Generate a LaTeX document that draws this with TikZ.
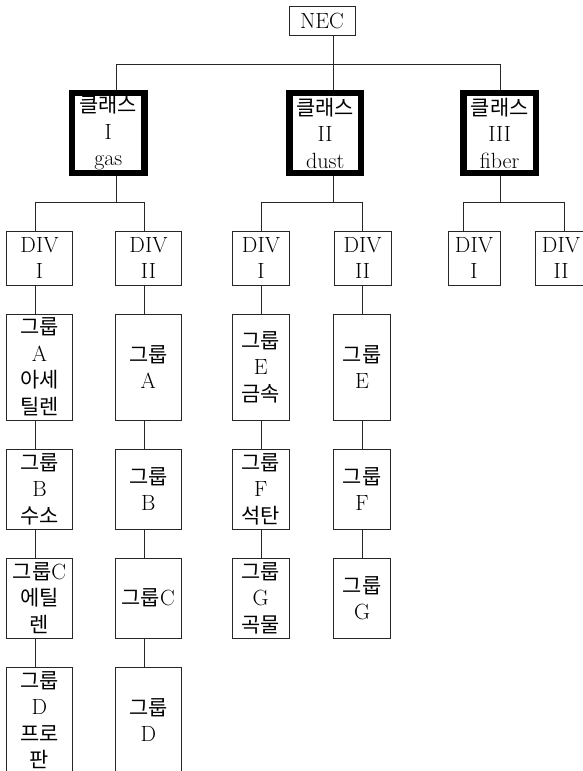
\documentclass[tikz,border=0pt]{standalone}
\usepackage{fontspec}
\newfontfamily\kr{Noto Sans CJK KR}[Scale=0.95]
\newcommand\K[1]{{\kr #1}}
\begin{document}
\begin{tikzpicture}[x=1pt,y=-1pt,
  bx/.style={draw=black!85, line width=0.9pt, inner sep=0pt, align=center,
    font=\fontsize{22}{26.5}\selectfont},
  cls/.style={bx, draw=black, line width=6.7pt, minimum height=80pt},
  divbox/.style={bx, minimum height=54pt},
  tall/.style={bx, minimum height=106pt},
  short/.style={bx, minimum height=80pt},
  ln/.style={draw=black!85, line width=0.9pt}]
\useasboundingbox (0,0) rectangle (583,771);
% top
\node[bx,minimum width=66pt,minimum height=29pt] (nec) at (322,20.5) {NEC};
\node[cls,minimum width=72.5pt] (c1) at (108.3,133) {\K{클래스}\\I\\gas};
\node[cls,minimum width=71.7pt] (c2) at (325.2,133) {\K{클래스}\\II\\dust};
\node[cls,minimum width=72.7pt] (c3) at (499.7,133) {\K{클래스}\\III\\fiber};
% divisions
\node[divbox,minimum width=65.5pt] (d1) at (39.5,258) {DIV\\I};
\node[divbox,minimum width=65.5pt] (d2) at (148.5,258) {DIV\\II};
\node[divbox,minimum width=57.7pt] (d3) at (261,258) {DIV\\I};
\node[divbox,minimum width=57.3pt] (d4) at (362.7,258) {DIV\\II};
\node[divbox,minimum width=52pt] (d5) at (474,258) {DIV\\I};
\node[divbox,minimum width=52pt] (d6) at (561,258) {DIV\\II};
% column 1
\node[tall,minimum width=65.6pt] (a1) at (39.5,367) {\K{그룹}\\A\\\K{아세}\\\K{틸렌}};
\node[short,minimum width=65.6pt] (b1) at (39.5,489) {\K{그룹}\\B\\\K{수소}};
\node[short,minimum width=65.6pt] (e1) at (39.5,598) {\K{그룹}C\\\K{에틸}\\\K{렌}};
\node[tall,minimum width=65.6pt] (f1) at (39.5,720) {\K{그룹}\\D\\\K{프로}\\\K{판}};
% column 2
\node[tall,minimum width=65.3pt] (a2) at (148.3,367) {\K{그룹}\\A};
\node[short,minimum width=65.3pt] (b2) at (148.3,489) {\K{그룹}\\B};
\node[short,minimum width=65.3pt] (e2) at (148.3,598) {\K{그룹}C};
\node[tall,minimum width=65.3pt] (f2) at (148.3,720) {\K{그룹}\\D};
% column 3
\node[tall,minimum width=57.3pt] (a3) at (260.7,367) {\K{그룹}\\E\\\K{금속}};
\node[short,minimum width=57.3pt] (b3) at (260.7,489) {\K{그룹}\\F\\\K{석탄}};
\node[short,minimum width=57.3pt] (e3) at (260.7,598) {\K{그룹}\\G\\\K{곡물}};
% column 4
\node[tall,minimum width=57.3pt] (a4) at (362,367) {\K{그룹}\\E};
\node[short,minimum width=57.3pt] (b4) at (362,489) {\K{그룹}\\F};
\node[short,minimum width=57.3pt] (e4) at (362,598) {\K{그룹}\\G};
% bus coordinates
\coordinate (t0) at (333.8,64);
\coordinate (tL) at (116,64);
\coordinate (tR) at (500,64);
\coordinate (s1) at (116,202);
\coordinate (s1L) at (35.7,202);
\coordinate (s1R) at (144.5,202);
\coordinate (s2) at (333.8,202);
\coordinate (s2L) at (261,202);
\coordinate (s2R) at (362,202);
\coordinate (s3) at (500,202);
\coordinate (s3L) at (463,202);
\coordinate (s3R) at (564,202);
% connectors top
\draw[ln] (nec.south -| t0) -- (t0);
\draw[ln] (tL) -- (tR);
\draw[ln] (tL) -- (tL |- c1.north);
\draw[ln] (t0) -- (t0 |- c2.north);
\draw[ln] (tR) -- (tR |- c3.north);
% class to divisions
\draw[ln] (c1.south -| s1) -- (s1);
\draw[ln] (s1L) -- (s1R);
\draw[ln] (s1L) -- (s1L |- d1.north);
\draw[ln] (s1R) -- (s1R |- d2.north);
\draw[ln] (c2.south -| s2) -- (s2);
\draw[ln] (s2L) -- (s2R);
\draw[ln] (s2L) -- (s2L |- d3.north);
\draw[ln] (s2R) -- (s2R |- d4.north);
\draw[ln] (c3.south -| s3) -- (s3);
\draw[ln] (s3L) -- (s3R);
\draw[ln] (s3L) -- (s3L |- d5.north);
\draw[ln] (s3R) -- (s3R |- d6.north);
% chains
\draw[ln] (s1L |- d1.south) -- (s1L |- a1.north);
\draw[ln] (s1L |- a1.south) -- (s1L |- b1.north);
\draw[ln] (s1L |- b1.south) -- (s1L |- e1.north);
\draw[ln] (s1L |- e1.south) -- (s1L |- f1.north);
\draw[ln] (s1R |- d2.south) -- (s1R |- a2.north);
\draw[ln] (s1R |- a2.south) -- (s1R |- b2.north);
\draw[ln] (s1R |- b2.south) -- (s1R |- e2.north);
\draw[ln] (s1R |- e2.south) -- (s1R |- f2.north);
\draw[ln] (s2L |- d3.south) -- (s2L |- a3.north);
\draw[ln] (s2L |- a3.south) -- (s2L |- b3.north);
\draw[ln] (s2L |- b3.south) -- (s2L |- e3.north);
\draw[ln] (s2R |- d4.south) -- (s2R |- a4.north);
\draw[ln] (s2R |- a4.south) -- (s2R |- b4.north);
\draw[ln] (s2R |- b4.south) -- (s2R |- e4.north);
\end{tikzpicture}
\end{document}
